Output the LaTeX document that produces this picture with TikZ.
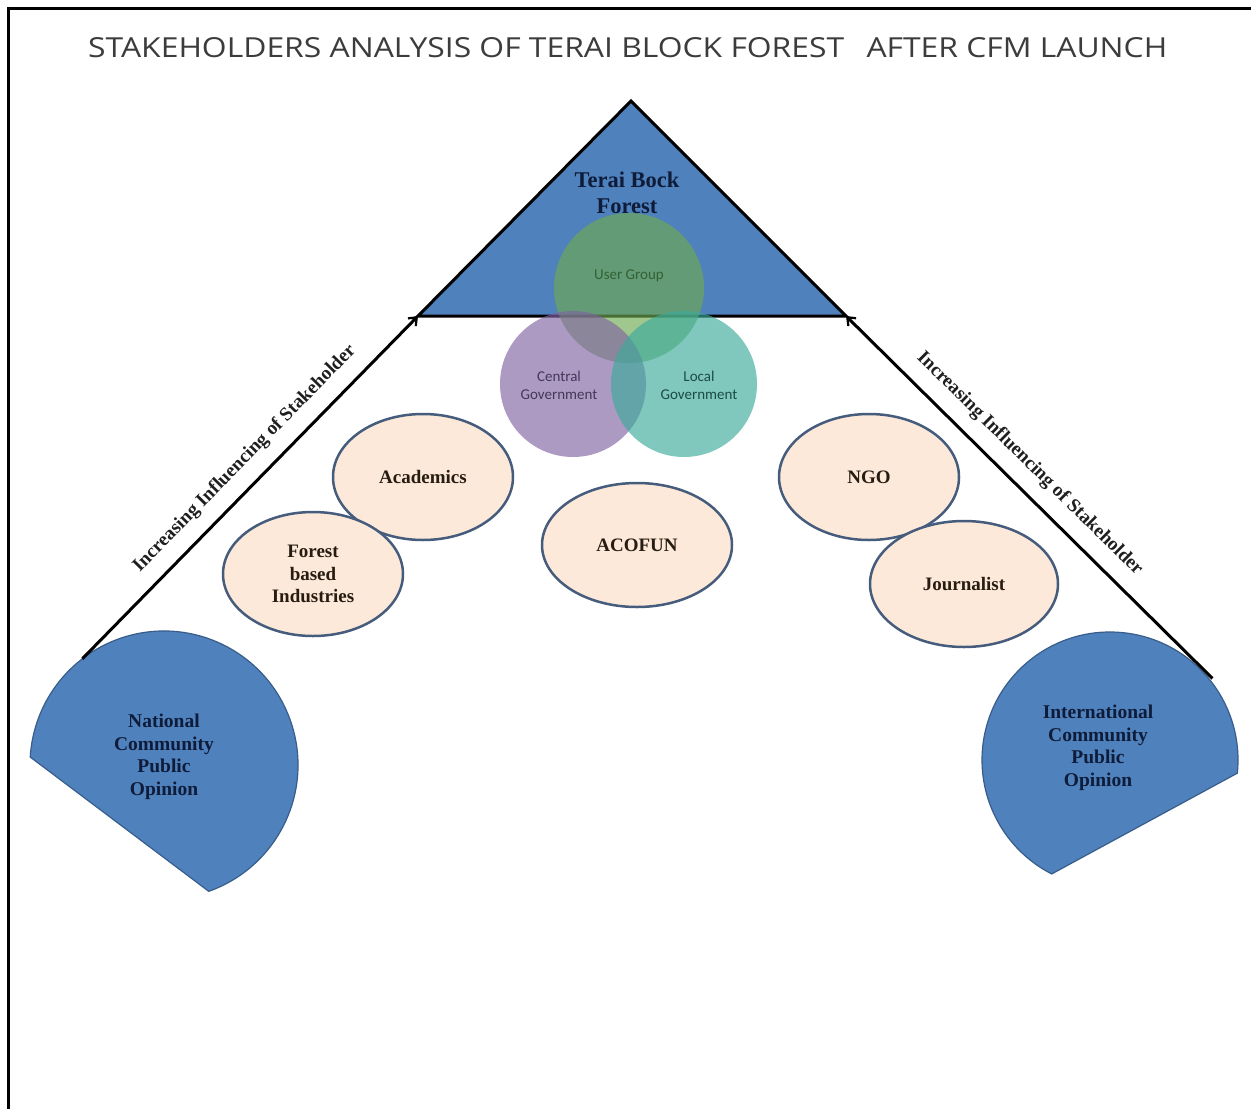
\documentclass[tikz,border=0pt]{standalone}
\usepackage{fontspec}
\setmainfont{Liberation Serif}
\newfontfamily\titlefont{Open Sans}
\newfontfamily\vennfont{Carlito}
\usetikzlibrary{arrows.meta,calc,shapes.geometric}

\definecolor{shapeblue}{RGB}{79,129,189}
\definecolor{shapeedge}{RGB}{56,93,138}
\definecolor{peach}{RGB}{253,233,217}
\definecolor{peachedge}{RGB}{70,92,125}
\definecolor{navytext}{RGB}{14,28,58}
\definecolor{browntext}{RGB}{38,28,18}
\definecolor{titlegrey}{RGB}{60,60,60}
\definecolor{ugreen}{RGB}{110,170,80}
\definecolor{cpurple}{RGB}{128,100,162}
\definecolor{lteal}{RGB}{60,170,155}

\tikzset{
  bluetext/.style={text=navytext, align=center, inner sep=0pt,
    font=\bfseries\fontsize{19.5}{22.5}\selectfont},
  stakeholder/.style={ellipse, draw=peachedge, fill=peach, line width=2.5pt,
    text=browntext, align=center, inner sep=0pt,
    font=\bfseries\fontsize{19}{22.5}\selectfont},
  venncircle/.style={circle, inner sep=0pt, minimum size=#1, fill opacity=0.65},
  venntext/.style={align=center, inner sep=0pt, font=\vennfont\fontsize{15}{18}\selectfont},
  influence/.style={line width=3pt, -{Straight Barb[length=7pt,width=11pt,line width=2.2pt]}},
  arrowlabel/.style={sloped, inner sep=0pt, text=black!88,
    font=\bfseries\fontsize{19.2}{21}\selectfont},
  chordshape/.style={fill=shapeblue, draw=shapeedge, line width=1.2pt}
}

\begin{document}
\begin{tikzpicture}[x=1pt,y=1pt]
\useasboundingbox (0,0) rectangle (1251,-1109);
\fill[white] (0,0) rectangle (1251,-1109);

% frame lines
\draw[line width=3pt] (8,-1109) -- (8,-8) -- (1251,-8);

% heading
\node[anchor=base west, inner sep=0pt, text=titlegrey] (title) at (88,-57)
  {\resizebox{1079pt}{20pt}{\titlefont STAKEHOLDERS ANALYSIS OF TERAI BLOCK FOREST\hspace{0.7em}AFTER CFM LAUNCH}};

% pyramid top
\coordinate (apex) at (631,-101);
\coordinate (tl) at (418,-316);
\coordinate (tr) at (846,-316);
\filldraw[fill=shapeblue, draw=black, line width=3pt, line join=miter]
  (apex) -- (tr) -- (tl) -- cycle;
\node[bluetext, font=\bfseries\fontsize{22.5}{26}\selectfont] (forest) at (627,-193) {Terai Bock\\Forest};

% venn of the core stakeholders
\node[venncircle=150pt, fill=ugreen] (ug) at (629,-288) {};
\node[venncircle=146pt, fill=cpurple] (cg) at (573,-384) {};
\node[venncircle=146pt, fill=lteal] (lg) at (684,-384) {};
\node[venntext, text=black!70!green!60!gray] (ugt) at (629,-276) {User Group};
\node[venntext, text=cpurple!55!black] (cgt) at (559,-385) {Central\\Government};
\node[venntext, text=lteal!45!black] (lgt) at (699,-385) {Local\\Government};

% secondary stakeholders
\node[stakeholder, minimum width=180pt, minimum height=126pt] (acad) at (423,-477) {Academics};
\node[stakeholder, minimum width=180pt, minimum height=124pt] (fbi) at (313,-574) {Forest\\based\\Industries};
\node[stakeholder, minimum width=190pt, minimum height=124pt] (acofun) at (637,-545) {ACOFUN};
\node[stakeholder, minimum width=180pt, minimum height=126pt] (ngo) at (869,-477) {NGO};
\node[stakeholder, minimum width=188pt, minimum height=126pt] (journ) at (964,-584) {Journalist};

% public opinion chords
\coordinate (natc) at (164,-765);
\filldraw[chordshape] (natc) ++(-70.5:134) arc[start angle=-70.5, end angle=176.6, radius=134] -- cycle;
\node[bluetext] (natl) at (164,-757) {National\\Community\\Public\\Opinion};
\coordinate (natedge) at ($(natc)+(127.5:134)$);

\coordinate (intc) at (1110,-760);
\filldraw[chordshape] (intc) ++(-5.9:128) arc[start angle=-5.9, end angle=242.9, radius=128] -- cycle;
\node[bluetext] (intl) at (1098,-748) {International\\Community\\Public\\Opinion};
\coordinate (intedge) at ($(intc)+(38.5:131)$);

% influence arrows
\draw[influence] (natedge) -- (tl);
\draw[influence] (intedge) -- (tr);
\path (natedge) -- (tl) node[arrowlabel, pos=0.535, above=15pt] (lblL) {Increasing Influencing of Stakeholder};
\path (tr) -- (intedge) node[arrowlabel, pos=0.455, above=15pt] (lblR) {Increasing Influencing of Stakeholder};
\end{tikzpicture}
\end{document}
